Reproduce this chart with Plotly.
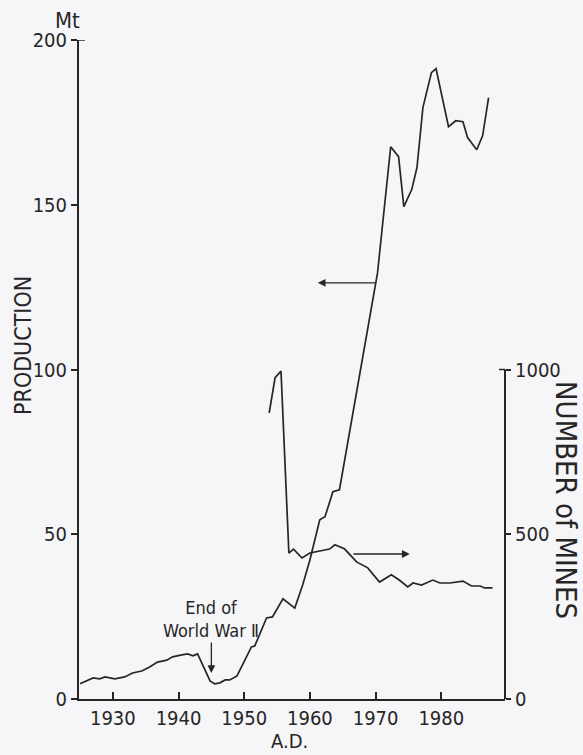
import plotly.graph_objects as go

# Production (Mt)
prod_years = [1925.0, 1927.0, 1928.0, 1928.8, 1930.3, 1931.8, 1933.0, 1934.4, 1935.6, 1936.8,
              1938.2, 1939.1, 1940.5, 1941.4, 1942.2, 1942.9, 1944.8, 1945.5, 1946.3, 1947.1,
              1947.8, 1948.9, 1950.1, 1951.1, 1951.6, 1953.4, 1954.3, 1955.9, 1957.7, 1958.9,
              1960.0, 1961.5, 1962.3, 1963.5, 1964.5, 1968.8, 1970.3, 1972.3, 1973.5, 1974.3,
              1975.5, 1976.3, 1977.2, 1978.5, 1979.2, 1981.1, 1982.2, 1983.3, 1984.0, 1985.4,
              1986.3, 1987.2]
production = [4.6, 6.4, 6.1, 6.7, 6.1, 6.7, 7.9, 8.5, 9.7, 11.2,
              11.8, 12.8, 13.4, 13.7, 13.1, 13.7, 5.5, 4.6, 4.9, 5.8,
              5.8, 7.0, 11.8, 15.8, 16.1, 24.6, 24.9, 30.4, 27.6, 34.6,
              42.2, 54.4, 55.3, 62.9, 63.5, 112.0, 129.4, 167.6, 164.6, 149.4,
              154.6, 161.3, 179.5, 190.1, 191.3, 173.7, 175.5, 175.2, 170.4, 166.7,
              171.0, 182.5]

# Number of mines
mine_years = [1953.8, 1954.7, 1955.6, 1956.8, 1957.5, 1958.8, 1960.0, 1961.5, 1963.0, 1963.8,
              1965.3, 1967.1, 1968.8, 1970.6, 1972.4, 1973.6, 1974.9, 1975.7, 1977.0, 1978.7,
              1979.8, 1981.3, 1983.3, 1984.6, 1985.9, 1986.6, 1987.8]
mines = [868, 975, 995, 443, 455, 428, 443, 450, 455, 468,
         455, 416, 398, 355, 377, 361, 340, 352, 346, 361,
         352, 352, 358, 343, 343, 337, 337]

x_ticks = [1930, 1940, 1950, 1960, 1970, 1980]
y_ticks = [0, 50, 100, 150, 200]
y2_ticks = [0, 500, 1000]

FONT = "DejaVu Sans Condensed, Liberation Sans, sans-serif"
INK = "#262626"
BG = "#f6f5f8"

fig = go.Figure()
fig.add_trace(go.Scatter(x=prod_years, y=production, mode="lines",
                         line=dict(color=INK, width=1.7), yaxis="y", showlegend=False))
fig.add_trace(go.Scatter(x=mine_years, y=mines, mode="lines",
                         line=dict(color=INK, width=1.7), yaxis="y2", showlegend=False))

fig.update_layout(
    width=583, height=755,
    margin=dict(l=79, r=78, t=40, b=56, pad=0),
    paper_bgcolor=BG, plot_bgcolor=BG,
    font=dict(family=FONT, color=INK, size=20),
    xaxis=dict(range=[1924.85, 1989.7], tickvals=x_ticks, ticks="inside", ticklen=7,
               tickwidth=1.5, tickcolor=INK, showline=True, linewidth=2, linecolor=INK,
               showgrid=False, zeroline=False, tickfont=dict(size=20)),
    yaxis=dict(range=[0, 200], tickvals=y_ticks, ticks="outside", ticklen=6,
               tickwidth=1.5, tickcolor=INK, showline=True, linewidth=2, linecolor=INK,
               showgrid=False, zeroline=False, tickfont=dict(size=20)),
    yaxis2=dict(range=[0, 2000], tickvals=y2_ticks, ticks="outside", ticklen=5,
                tickwidth=1.5, tickcolor=INK, overlaying="y", side="right",
                showline=False, showgrid=False, zeroline=False, tickfont=dict(size=20)),
)

# right axis line (only from 0 to 1000) and caps
fig.add_shape(type="line", xref="paper", yref="y2", x0=1, x1=1, y0=0, y1=1000,
              line=dict(color=INK, width=2))
fig.add_shape(type="line", xref="paper", yref="y2", x0=1 - 6 / 426, x1=1, y0=1000, y1=1000,
              line=dict(color=INK, width=1.5))
fig.add_shape(type="line", xref="paper", yref="y", x0=0, x1=6 / 426, y0=200, y1=200,
              line=dict(color=INK, width=1.5))

# axis titles
fig.add_annotation(text="Mt", xref="paper", yref="paper", x=-0.026, y=1.029,
                   showarrow=False, font=dict(size=22), xanchor="center", yanchor="middle")
fig.add_annotation(text="PRODUCTION", xref="paper", yref="paper", x=-0.131, y=0.536,
                   textangle=-90, showarrow=False, font=dict(size=23),
                   xanchor="center", yanchor="middle")
fig.add_annotation(text="NUMBER of MINES", xref="paper", yref="paper", x=1.143, y=0.302,
                   textangle=90, showarrow=False, font=dict(size=29),
                   xanchor="center", yanchor="middle")
fig.add_annotation(text="A.D.", xref="paper", yref="paper", x=0.493, y=-0.063,
                   showarrow=False, font=dict(size=20), xanchor="center", yanchor="middle")

# End of World War II
fig.add_annotation(text="End of<br>World War Ⅱ", x=1945, y=24.3, xref="x", yref="y",
                   showarrow=False, font=dict(size=18), xanchor="center", yanchor="middle")
fig.add_annotation(text="", x=1945, y=7.9, xref="x", yref="y", ax=0, ay=-32,
                   showarrow=True, arrowhead=2, arrowsize=1.2, arrowwidth=1.3, arrowcolor=INK)

# series arrows
fig.add_annotation(text="", x=1961.2, y=126.3, xref="x", yref="y", ax=1970.2, ay=126.3,
                   axref="x", ayref="y", showarrow=True, arrowhead=2, arrowsize=1.2,
                   arrowwidth=1.3, arrowcolor=INK)
fig.add_annotation(text="", x=1975.2, y=44.0, xref="x", yref="y", ax=1966.4, ay=44.0,
                   axref="x", ayref="y", showarrow=True, arrowhead=2, arrowsize=1.2,
                   arrowwidth=1.3, arrowcolor=INK)

fig.write_html("out.html")
